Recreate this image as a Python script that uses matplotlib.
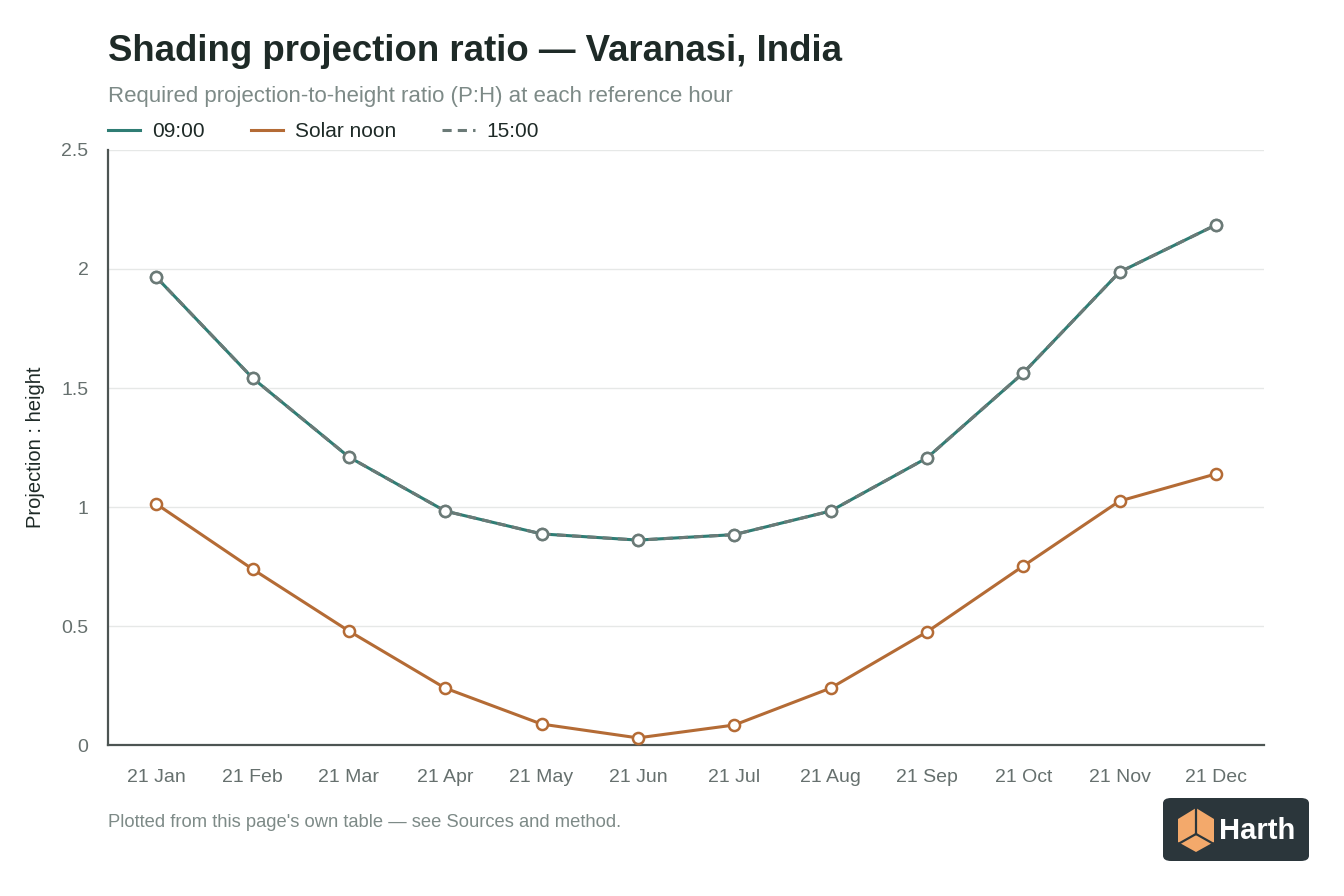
import matplotlib.pyplot as plt
from matplotlib.lines import Line2D
from matplotlib.patches import FancyBboxPatch, Polygon

plt.rcParams["font.family"] = ["Liberation Sans", "DejaVu Sans"]

months = ["21 Jan", "21 Feb", "21 Mar", "21 Apr", "21 May", "21 Jun",
          "21 Jul", "21 Aug", "21 Sep", "21 Oct", "21 Nov", "21 Dec"]
ratio_0900 = [1.966, 1.542, 1.210, 0.983, 0.887, 0.861, 0.884, 0.983, 1.206, 1.563, 1.987, 2.185]
ratio_noon = [1.013, 0.739, 0.479, 0.239, 0.088, 0.030, 0.084, 0.239, 0.475, 0.752, 1.025, 1.139]
ratio_1500 = [1.966, 1.542, 1.210, 0.983, 0.887, 0.861, 0.884, 0.983, 1.206, 1.563, 1.987, 2.185]
yticks = [0, 0.5, 1, 1.5, 2, 2.5]
ytick_labels = ["0", "0.5", "1", "1.5", "2", "2.5"]

TEAL = "#2f7d74"
ORANGE = "#b46b35"
GREY = "#6b7a77"
DARK = "#1e2a27"
MUTED = "#7d8a87"
TICK = "#66706e"

fig = plt.figure(figsize=(13.44, 8.96), dpi=100)
ax = fig.add_axes([0.0804, 0.1685, 0.8601, 0.6641])

x = list(range(len(months)))
ax.plot(x, ratio_0900, color=TEAL, lw=2.2, marker="o", ms=8,
        mfc="white", mec=GREY, mew=1.8, zorder=3)
ax.plot(x, ratio_noon, color=ORANGE, lw=2.2, marker="o", ms=8,
        mfc="white", mec=ORANGE, mew=1.8, zorder=3)
ax.plot(x, ratio_1500, color=GREY, lw=2.2, ls=(0, (3, 2)), marker="o", ms=8,
        mfc="white", mec=GREY, mew=1.8, zorder=4)

ax.set_xlim(-0.5, 11.5)
ax.set_ylim(0, 2.5)
ax.set_xticks(x)
ax.set_xticklabels(months)
ax.set_yticks(yticks)
ax.set_yticklabels(ytick_labels)
ax.tick_params(axis="both", length=0, labelsize=14, labelcolor=TICK)
ax.tick_params(axis="x", pad=17)
ax.tick_params(axis="y", pad=14)
ax.grid(axis="y", color="#e6e8e7", lw=1)
ax.set_axisbelow(True)
for s in ["top", "right"]:
    ax.spines[s].set_visible(False)
for s in ["left", "bottom"]:
    ax.spines[s].set_color("#4d5553")
    ax.spines[s].set_linewidth(1.6)
ax.set_ylabel("Projection : height", fontsize=14.5, color=DARK, labelpad=12)

fig.text(0.0804, 0.943, "Shading projection ratio \u2014 Varanasi, India",
         fontsize=26.4, fontweight="bold", color=DARK, va="center", ha="left")
fig.text(0.0804, 0.892, "Required projection-to-height ratio (P:H) at each reference hour",
         fontsize=16, color=MUTED, va="center", ha="left")

handles = [
    Line2D([], [], color=TEAL, lw=2.2),
    Line2D([], [], color=ORANGE, lw=2.2),
    Line2D([], [], color=GREY, lw=2.2, ls=(0, (3, 2))),
]
fig.legend(handles, ["09:00", "Solar noon", "15:00"], loc="center left",
           bbox_to_anchor=(0.0804, 0.853), ncol=3, frameon=False,
           borderpad=0, borderaxespad=0,
           fontsize=15, handlelength=1.55, handletextpad=0.58, columnspacing=2.2,
           labelcolor=DARK)

fig.text(0.0804, 0.082, "Plotted from this page's own table \u2014 see Sources and method.",
         fontsize=13.2, color=MUTED, va="center", ha="left")

# logo badge
box = FancyBboxPatch((1163 / 1344, 35 / 896), 146 / 1344, 63 / 896,
                     boxstyle="round,pad=0,rounding_size=0.006",
                     transform=fig.transFigure, fc="#2b363b", ec="none")
fig.patches.append(box)
icon = [(1178, 819), (1196, 808), (1214, 819), (1214, 842), (1196, 852), (1178, 842)]
fig.patches.append(Polygon([(px / 1344, 1 - py / 896) for px, py in icon],
                           closed=True, transform=fig.transFigure,
                           fc="#f3a96b", ec="none"))
for seg in [[(1196, 808), (1196, 834)], [(1196, 834), (1180, 843)], [(1196, 834), (1212, 843)]]:
    fig.lines.append(Line2D([p[0] / 1344 for p in seg], [1 - p[1] / 896 for p in seg],
                            transform=fig.transFigure, color="#2b363b", lw=1.6))
fig.text(1219 / 1344, 1 - 831 / 896, "Harth", fontsize=21, fontweight="bold",
         color="white", va="center", ha="left")

fig.savefig("out.png", dpi=100)
